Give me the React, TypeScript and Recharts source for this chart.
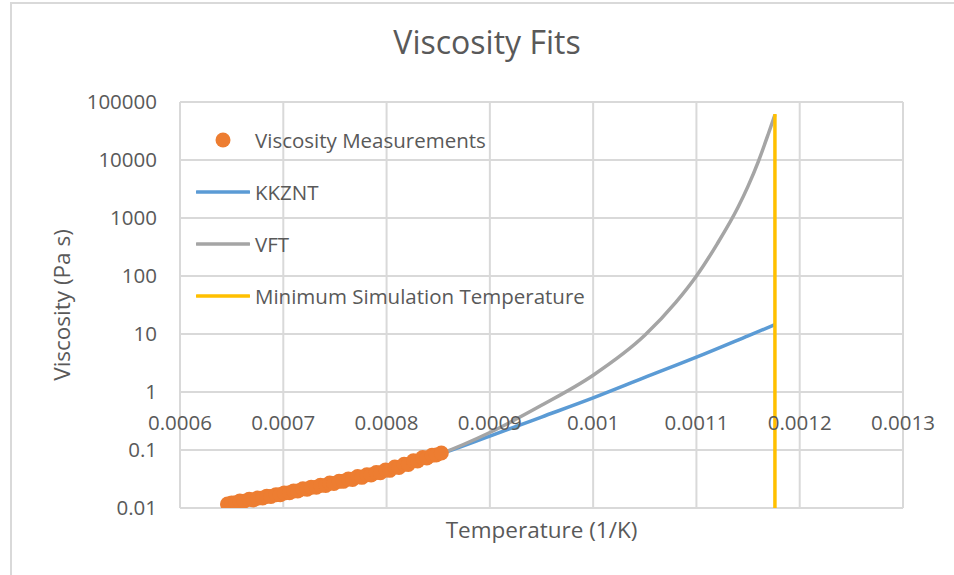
import React from "react";
import { ComposedChart, Line, Scatter, XAxis, YAxis, CartesianGrid, Legend } from "recharts";

// measured viscosity vs 1/T
const measT = [
  0.000646, 0.00065, 0.000654, 0.000658, 0.000662, 0.000667, 0.000671, 0.000675, 0.00068, 0.000684,
  0.000688, 0.000693, 0.000697, 0.000701, 0.000706, 0.00071, 0.000714, 0.000719, 0.000723, 0.000727,
  0.000732, 0.000736, 0.000741, 0.000745, 0.000749, 0.000754, 0.000758, 0.000763, 0.000767, 0.000772,
  0.000776, 0.000781, 0.000785, 0.00079, 0.000794, 0.000799, 0.000803, 0.000808, 0.000812, 0.000817,
  0.000821, 0.000826, 0.00083, 0.000835, 0.000839, 0.000844, 0.000848, 0.000853,
];
const measEta = [
  0.0117, 0.0122, 0.0123, 0.0132, 0.0131, 0.0141, 0.0138, 0.0148, 0.0149, 0.0159,
  0.0158, 0.0170, 0.0170, 0.0182, 0.0183, 0.0196, 0.0196, 0.0214, 0.0210, 0.0229,
  0.0229, 0.0246, 0.0245, 0.0270, 0.0264, 0.0289, 0.0288, 0.0316, 0.0311, 0.0348,
  0.0338, 0.0374, 0.0372, 0.0410, 0.0405, 0.0452, 0.0446, 0.0508, 0.0500, 0.0568,
  0.0565, 0.0650, 0.0648, 0.0740, 0.0728, 0.0810, 0.0820, 0.0890,
];

// KKZNT fit
const kkzntT = [0.00066, 0.0007, 0.00075, 0.0008, 0.00085, 0.0009, 0.00095, 0.001, 0.00105, 0.0011, 0.00115, 0.001176];
const kkzntEta = [0.0132, 0.0178, 0.0275, 0.0447, 0.083, 0.174, 0.37, 0.79, 1.78, 3.98, 9.3, 14.5];

// VFT fit
const vftT = [0.000655, 0.0007, 0.00075, 0.0008, 0.00085, 0.0009, 0.00095, 0.001, 0.00105, 0.00108, 0.0011, 0.00112, 0.00114, 0.00115, 0.00116, 0.00117, 0.001176];
const vftEta = [0.0129, 0.0178, 0.027, 0.0437, 0.083, 0.2, 0.59, 1.95, 9.5, 35, 100, 355, 1500, 3550, 9500, 29500, 60000];

// minimum simulation temperature marker
const minSimT = [0.001176, 0.001176];
const minSimEta = [0.01, 62000];

const xTicks = [0.0006, 0.0007, 0.0008, 0.0009, 0.001, 0.0011, 0.0012, 0.0013];
const yTicks = [0.01, 0.1, 1, 10, 100, 1000, 10000, 100000];
const legendOrder = ["Viscosity Measurements", "KKZNT", "VFT", "Minimum Simulation Temperature"];

const toRows = (t: number[], eta: number[]) => t.map((v, i) => ({ t: v, eta: eta[i] }));

const measurements = toRows(measT, measEta);
const kkznt = toRows(kkzntT, kkzntEta);
const vft = toRows(vftT, vftEta);
const minSim = toRows(minSimT, minSimEta);

const TEXT = "#595959";
const FONT = "'Open Sans', sans-serif";
const FS = 20.5; // tick + legend text
const FS_AXIS = 22.5; // axis titles

function XTick({ x, y, payload }: any) {
  return (
    <text x={x} y={y} dy={-78} textAnchor="middle" fill={TEXT} fontSize={FS} fontFamily={FONT}>
      {String(payload.value)}
    </text>
  );
}

function renderLegend({ payload }: any) {
  const items = [...(payload || [])].sort((a: any, b: any) => legendOrder.indexOf(a.value) - legendOrder.indexOf(b.value));
  return (
    <div style={{ fontFamily: FONT, fontSize: FS, color: TEXT }}>
      {items.map((entry: any) => (
        <div key={entry.value} style={{ height: 52, display: "flex", alignItems: "center" }}>
          <svg width={54} height={16} style={{ display: "block" }}>
            {entry.type === "circle" ? (
              <circle cx={27} cy={8} r={7.5} fill={entry.color} />
            ) : (
              <line x1={1} y1={8} x2={53} y2={8} stroke={entry.color} strokeWidth={3.5} strokeLinecap="round" />
            )}
          </svg>
          <span style={{ marginLeft: 5, whiteSpace: "nowrap" }}>{entry.value}</span>
        </div>
      ))}
    </div>
  );
}

export default function App() {
  return (
    <div style={{ position: "absolute", left: 0, top: 0, width: 954, height: 575, overflow: "hidden", background: "#fff", fontFamily: FONT }}>
      <div style={{ position: "absolute", left: 10, top: 2, width: 980, height: 620, borderTop: "2px solid #D9D9D9", borderLeft: "2px solid #D9D9D9" }} />
      <div style={{ position: "absolute", left: 287, top: 26, width: 400, textAlign: "center", fontSize: 32, lineHeight: "32px", color: TEXT }}>
        Viscosity Fits
      </div>
      <div style={{ position: "absolute", left: 0, top: 0 }}>
        <ComposedChart width={954} height={575} margin={{ top: 102, right: 51, bottom: 37, left: 80 }}>
          <CartesianGrid stroke="#D9D9D9" strokeWidth={2} />
          <XAxis
            dataKey="t"
            type="number"
            domain={[0.0006, 0.0013]}
            ticks={xTicks}
            interval={0}
            allowDataOverflow
            axisLine={false}
            tickLine={false}
            tickSize={0}
            tickMargin={0}
            height={30}
            tick={<XTick />}
            label={{
              value: "Temperature (1/K)",
              content: (p: any) => {
                const vb = p.viewBox;
                return (
                  <text x={vb.x + vb.width / 2} y={vb.y + vb.height} textAnchor="middle" fill={TEXT} fontSize={FS_AXIS} fontFamily={FONT}>
                    Temperature (1/K)
                  </text>
                );
              },
            }}
          />
          <YAxis
            dataKey="eta"
            type="number"
            scale="log"
            domain={[0.01, 100000]}
            ticks={yTicks}
            interval={0}
            allowDataOverflow
            axisLine={false}
            tickLine={false}
            tickSize={0}
            tickMargin={23}
            width={100}
            tick={{ fill: TEXT, fontSize: FS, fontFamily: FONT }}
            label={{
              value: "Viscosity (Pa s)",
              content: (p: any) => {
                const vb = p.viewBox;
                const cx = vb.x - 19;
                const cy = vb.y + vb.height / 2;
                return (
                  <text x={cx} y={cy} transform={`rotate(-90 ${cx} ${cy})`} textAnchor="middle" dominantBaseline="central" fill={TEXT} fontSize={FS_AXIS} fontFamily={FONT}>
                    Viscosity (Pa s)
                  </text>
                );
              },
            }}
          />
          <Legend
            content={renderLegend}
            layout="horizontal"
            verticalAlign="middle"
            align="center"
            wrapperStyle={{ position: "absolute", left: 196, top: 114, width: 420 }}
          />
          <Scatter
            name="Viscosity Measurements"
            data={measurements}
            dataKey="eta"
            fill="#ED7D31"
            legendType="circle"
            isAnimationActive={false}
            shape={(p: any) => <circle cx={p.cx} cy={p.cy} r={7.5} fill="#ED7D31" />}
          />
          <Line name="KKZNT" data={kkznt} dataKey="eta" type="monotone" stroke="#5B9BD5" strokeWidth={3.5} dot={false} legendType="line" isAnimationActive={false} />
          <Line name="VFT" data={vft} dataKey="eta" type="monotone" stroke="#A5A5A5" strokeWidth={3.5} dot={false} legendType="line" isAnimationActive={false} />
          <Line name="Minimum Simulation Temperature" data={minSim} dataKey="eta" type="linear" stroke="#FFC000" strokeWidth={3.5} dot={false} legendType="line" isAnimationActive={false} />
        </ComposedChart>
      </div>
    </div>
  );
}
